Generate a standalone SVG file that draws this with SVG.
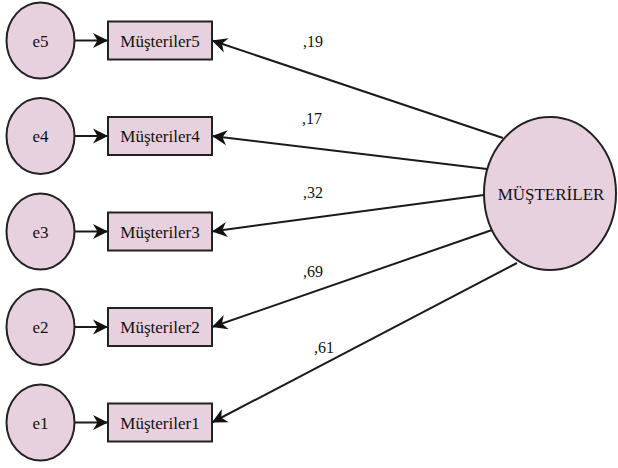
<svg xmlns="http://www.w3.org/2000/svg" width="618" height="468" viewBox="0 0 618 468">
  <style>
    .node { fill: #e7d1de; stroke: #222; stroke-width: 2; }
    .lbl { font-family: "Liberation Serif", "Times New Roman", serif; font-size: 17px; fill: #111; text-anchor: middle; }
    .coef { font-family: "Liberation Serif", "Times New Roman", serif; font-size: 16px; fill: #111; }
    .conn { stroke: #1a1a1a; stroke-width: 2; fill: none; marker-end: url(#head); }
  </style>
  <defs>
    <marker id="head" markerUnits="userSpaceOnUse" viewBox="-16 -8 17 16" refX="0" refY="0" markerWidth="17" markerHeight="16" orient="auto">
      <path d="M0,0 L-15,-7.5 L-10.5,0 L-15,7.5 Z" fill="#111"/>
    </marker>
  </defs>

  <!-- connectors -->
  <g id="connectors">
    <!-- error terms to indicators -->
    <line class="conn" x1="75" y1="40.5" x2="108" y2="40.5"/>
    <line class="conn" x1="75" y1="136" x2="108" y2="136"/>
    <line class="conn" x1="75" y1="231.5" x2="108" y2="231.5"/>
    <line class="conn" x1="75" y1="327" x2="108" y2="327"/>
    <line class="conn" x1="75" y1="422.5" x2="108" y2="422.5"/>
    <!-- latent factor to indicators -->
    <line class="conn" x1="503" y1="138" x2="212" y2="40.5"/>
    <line class="conn" x1="487" y1="169" x2="212" y2="136"/>
    <line class="conn" x1="484" y1="195" x2="212" y2="231.5"/>
    <line class="conn" x1="492" y1="230" x2="212" y2="327"/>
    <line class="conn" x1="517" y1="263" x2="212" y2="422.5"/>
    <!-- loadings -->
    <text class="coef" x="303" y="47">,19</text>
    <text class="coef" x="302" y="124">,17</text>
    <text class="coef" x="303" y="198">,32</text>
    <text class="coef" x="303" y="277">,69</text>
    <text class="coef" x="314" y="353">,61</text>
  </g>

  <!-- error terms -->
  <g id="e5"><ellipse class="node" cx="40.5" cy="40.5" rx="34" ry="38"/><text class="lbl" x="40.5" y="46.5">e5</text></g>
  <g id="e4"><ellipse class="node" cx="40.5" cy="136" rx="34" ry="38"/><text class="lbl" x="40.5" y="142">e4</text></g>
  <g id="e3"><ellipse class="node" cx="40.5" cy="231.5" rx="34" ry="38"/><text class="lbl" x="40.5" y="237.5">e3</text></g>
  <g id="e2"><ellipse class="node" cx="40.5" cy="327" rx="34" ry="38"/><text class="lbl" x="40.5" y="333">e2</text></g>
  <g id="e1"><ellipse class="node" cx="40.5" cy="422.5" rx="34" ry="38"/><text class="lbl" x="40.5" y="428.5">e1</text></g>

  <!-- indicators -->
  <g id="musteriler5"><rect class="node" x="108" y="21.5" width="104" height="38"/><text class="lbl" x="160" y="46.5">Müşteriler5</text></g>
  <g id="musteriler4"><rect class="node" x="108" y="117" width="104" height="38"/><text class="lbl" x="160" y="142">Müşteriler4</text></g>
  <g id="musteriler3"><rect class="node" x="108" y="212.5" width="104" height="38"/><text class="lbl" x="160" y="237.5">Müşteriler3</text></g>
  <g id="musteriler2"><rect class="node" x="108" y="308" width="104" height="38"/><text class="lbl" x="160" y="333">Müşteriler2</text></g>
  <g id="musteriler1"><rect class="node" x="108" y="403.5" width="104" height="38"/><text class="lbl" x="160" y="428.5">Müşteriler1</text></g>

  <!-- latent factor -->
  <g id="musteriler"><ellipse class="node" cx="550" cy="193.5" rx="66" ry="76.5"/><text class="lbl" x="551" y="200">MÜŞTERİLER</text></g>
</svg>
